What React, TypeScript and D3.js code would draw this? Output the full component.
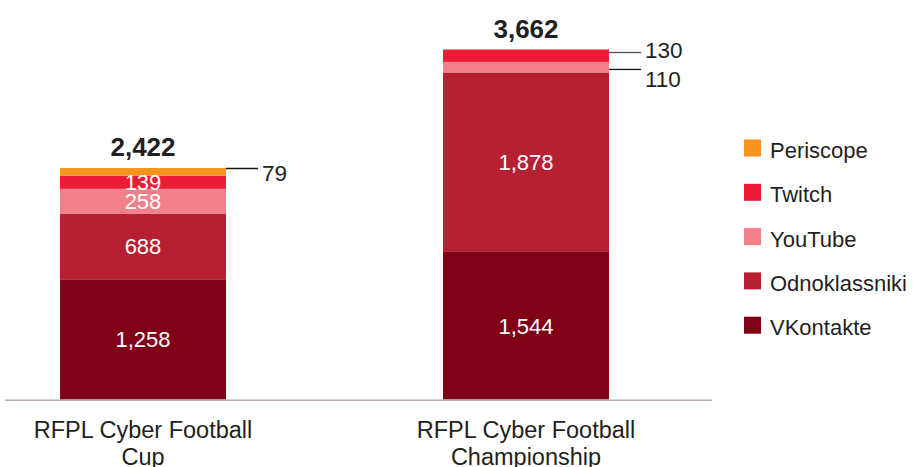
import React from "react";
import * as d3 from "d3";

const categories = ["RFPL Cyber Football Cup", "RFPL Cyber Football Championship"];
const categoryLines = [["RFPL Cyber Football", "Cup"], ["RFPL Cyber Football", "Championship"]];
const seriesNames = ["VKontakte", "Odnoklassniki", "YouTube", "Twitch", "Periscope"];
const vkontakte = [1258, 1544];
const odnoklassniki = [688, 1878];
const youtube = [258, 110];
const twitch = [139, 130];
const periscope = [79, 0];
const totals = [2422, 3662];
const colors = ["#800018", "#b72033", "#f2808a", "#ec1c37", "#f7941d"];

const W = 914;
const H = 467;
const FONT = "'Liberation Sans', Arial, Helvetica, sans-serif";
const TEXT = "#231f20";

export default function App() {
  const seriesValues = [vkontakte, odnoklassniki, youtube, twitch, periscope];
  const data = categories.map((c, i) => {
    const row: any = { cat: c };
    seriesNames.forEach((s, k) => (row[s] = seriesValues[k][i]));
    return row;
  });
  const stack = d3.stack<any>().keys(seriesNames)(data);
  const x = d3.scaleBand<string>().domain(categories).range([60, 609]).paddingInner(0.5666).paddingOuter(0);
  const y = d3.scaleLinear().domain([0, 3662]).range([399.5, 49.5]);
  const bw = x.bandwidth();
  const fmt = d3.format(",");

  const outside = [
    { s: 4, c: 0, at: "top", dy: 0.5, ly: 4 },
    { s: 3, c: 1, at: "top", dy: 3, ly: -3 },
    { s: 2, c: 1, at: "bottom", dy: -3, ly: 9 },
  ];
  const inside = new Set(["0-0", "1-0", "2-0", "3-0", "0-1", "1-1"]);

  return (
    <svg width={W} height={H} style={{ position: "absolute", left: 0, top: 0, background: "#fff" }} fontFamily={FONT}>
      {stack.map((layer, si) =>
        layer.map((d, ci) => {
          const x0 = x(categories[ci])!;
          const y0 = y(d[1]);
          const y1 = y(d[0]);
          if (y1 - y0 <= 0) return null;
          return <rect key={`r${si}-${ci}`} x={x0} y={y0} width={bw} height={y1 - y0} fill={colors[si]} />;
        })
      )}
      {stack.map((layer, si) =>
        layer.map((d, ci) => {
          if (!inside.has(`${si}-${ci}`)) return null;
          const cx = x(categories[ci])! + bw / 2;
          const cy = (y(d[0]) + y(d[1])) / 2;
          return (
            <text key={`t${si}-${ci}`} x={cx} y={cy} dy="0.36em" textAnchor="middle" fill="#fff" fontSize={22}>
              {fmt(d.data[seriesNames[si]])}
            </text>
          );
        })
      )}
      {outside.map((o, i) => {
        const d = stack[o.s][o.c];
        const base = o.at === "top" ? y(d[1]) : y(d[0]);
        const ly = base + o.dy;
        const xr = x(categories[o.c])! + bw;
        return (
          <g key={`o${i}`}>
            <line x1={xr} x2={xr + 32} y1={ly} y2={ly} stroke={i === 1 ? "#555" : "#111"} strokeWidth={1.3} />
            <text x={xr + 36} y={ly + o.ly} dy="0.36em" fill={TEXT} fontSize={22.5}>
              {fmt(seriesValues[o.s][o.c])}
            </text>
          </g>
        );
      })}
      {totals.map((t, ci) => (
        <text key={`tot${ci}`} x={x(categories[ci])! + bw / 2} y={y(t) - 21} dy="0.36em" textAnchor="middle" fill={TEXT} fontSize={26} fontWeight="bold">
          {fmt(t)}
        </text>
      ))}
      <line x1={5} x2={712} y1={400.3} y2={400.3} stroke="#b8aca4" strokeWidth={1.6} />
      {categoryLines.map((lines, ci) => (
        <text key={`c${ci}`} x={x(categories[ci])! + bw / 2} y={430} textAnchor="middle" fill={TEXT} fontSize={23.5}>
          {lines.map((l, k) => (
            <tspan key={k} x={x(categories[ci])! + bw / 2} y={430 + k * 27} dy="0.36em">
              {l}
            </tspan>
          ))}
        </text>
      ))}
      {seriesNames
        .slice()
        .reverse()
        .map((s, k) => {
          const si = seriesNames.length - 1 - k;
          const cy = 148 + k * 44.3;
          return (
            <g key={`l${s}`}>
              <rect x={744} y={cy - 8.5} width={17} height={17} fill={colors[si]} />
              <text x={770} y={cy + 2} dy="0.36em" fill={TEXT} fontSize={22}>
                {s}
              </text>
            </g>
          );
        })}
    </svg>
  );
}
